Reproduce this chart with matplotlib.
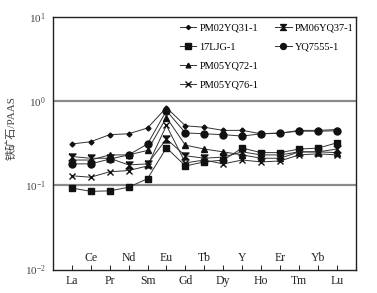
import numpy as np
import matplotlib.pyplot as plt
import matplotlib.transforms as mtransforms

plt.rcParams['font.family'] = ['Liberation Serif', 'Noto Sans CJK SC']
plt.rcParams['mathtext.fontset'] = 'stix'

elements = ['La', 'Ce', 'Pr', 'Nd', 'Sm', 'Eu', 'Gd', 'Tb', 'Dy', 'Y',
            'Ho', 'Er', 'Tm', 'Yb', 'Lu']

pm02yq31 = [0.31, 0.33, 0.40, 0.41, 0.48, 0.84, 0.51, 0.49, 0.45, 0.45,
            0.41, 0.415, 0.45, 0.45, 0.46]
ljg17 = [0.093, 0.085, 0.086, 0.095, 0.12, 0.28, 0.17, 0.19, 0.20, 0.277,
         0.245, 0.245, 0.27, 0.277, 0.32]
pm05yq72 = [0.20, 0.20, 0.23, 0.23, 0.26, 0.64, 0.30, 0.27, 0.25, 0.23,
            0.21, 0.21, 0.25, 0.25, 0.245]
pm05yq76 = [0.13, 0.125, 0.145, 0.15, 0.17, 0.515, 0.185, 0.20, 0.18, 0.20,
            0.19, 0.195, 0.23, 0.237, 0.23]
pm06yq37 = [0.22, 0.21, 0.21, 0.175, 0.18, 0.355, 0.225, 0.21, 0.217, 0.25,
            0.23, 0.23, 0.25, 0.25, 0.27]
yq7555 = [0.18, 0.18, 0.205, 0.23, 0.31, 0.77, 0.42, 0.41, 0.40, 0.385,
          0.41, 0.42, 0.44, 0.44, 0.445]

# bow-tie marker (two triangles meeting at the centre)
hourglass = [(-1, 1), (1, 1), (0, 0), (1, -1), (-1, -1), (0, 0), (-1, 1)]

series = [
    ('PM02YQ31-1', pm02yq31, 'D', 2.5),
    ('17LJG-1', ljg17, 's', 4.5),
    ('PM05YQ72-1', pm05yq72, '^', 4.0),
    ('PM05YQ76-1', pm05yq76, 'x', 4.5),
    ('PM06YQ37-1', pm06yq37, hourglass, 5.0),
    ('YQ7555-1', yq7555, 'o', 5.0),
]

fig = plt.figure(figsize=(3.77, 2.93), dpi=100)
ax = fig.add_axes([0.14, 0.080, 0.804, 0.862])

x = np.arange(len(elements))
handles = []
for name, vals, mk, ms in series:
    h, = ax.plot(x, vals, color='#333333', lw=0.7, marker=mk, ms=ms,
                 mec='#111111', mfc='#111111', mew=1.0, label=name)
    handles.append(h)

ax.set_yscale('log')
ax.set_ylim(1e-2, 1e1)
ax.set_xlim(-1, 15)

# gray lines at 10^0 and 10^-1
for yv in [1.0, 0.1]:
    ax.axhline(yv, color='#8a8a8a', lw=1.6, zorder=0)

ax.set_xticks(x)
ax.set_xticklabels([e if i % 2 == 0 else '' for i, e in enumerate(elements)],
                   fontsize=8.5)
trans = mtransforms.blended_transform_factory(ax.transData, ax.transAxes)
for i, e in enumerate(elements):
    if i % 2 == 1:
        ax.text(i, 0.045, e, transform=trans, ha='center', va='center',
                fontsize=8.5, color='#222222')

ax.tick_params(axis='x', direction='in', length=3.5, width=0.7, pad=4,
               colors='#222222')
ax.tick_params(axis='y', which='major', direction='in', length=0, labelsize=8,
               pad=5, colors='#444444')
ax.tick_params(axis='y', which='minor', length=0)
ax.set_yticks([1e-2, 1e-1, 1e0, 1e1])

for sp in ax.spines.values():
    sp.set_linewidth(1.0)
    sp.set_color('#222222')

ax.set_ylabel('铁矿石/PAAS', fontsize=8, color='#444444')
ax.yaxis.set_label_coords(-0.12, 0.56)

blank = plt.Line2D([], [], color='none')
leg_handles = handles[:4] + [handles[4], handles[5], blank, blank]
leg_labels = [s[0] for s in series[:4]] + [series[4][0], series[5][0], '', '']
ax.legend(leg_handles, leg_labels, ncol=2, frameon=False, fontsize=7.5,
          loc='upper left', bbox_to_anchor=(0.395, 1.005), handlelength=1.6,
          handletextpad=0.3, columnspacing=1.6, labelspacing=0.95,
          borderaxespad=0.3, markerscale=0.85)

fig.savefig('out.png', dpi=100)
